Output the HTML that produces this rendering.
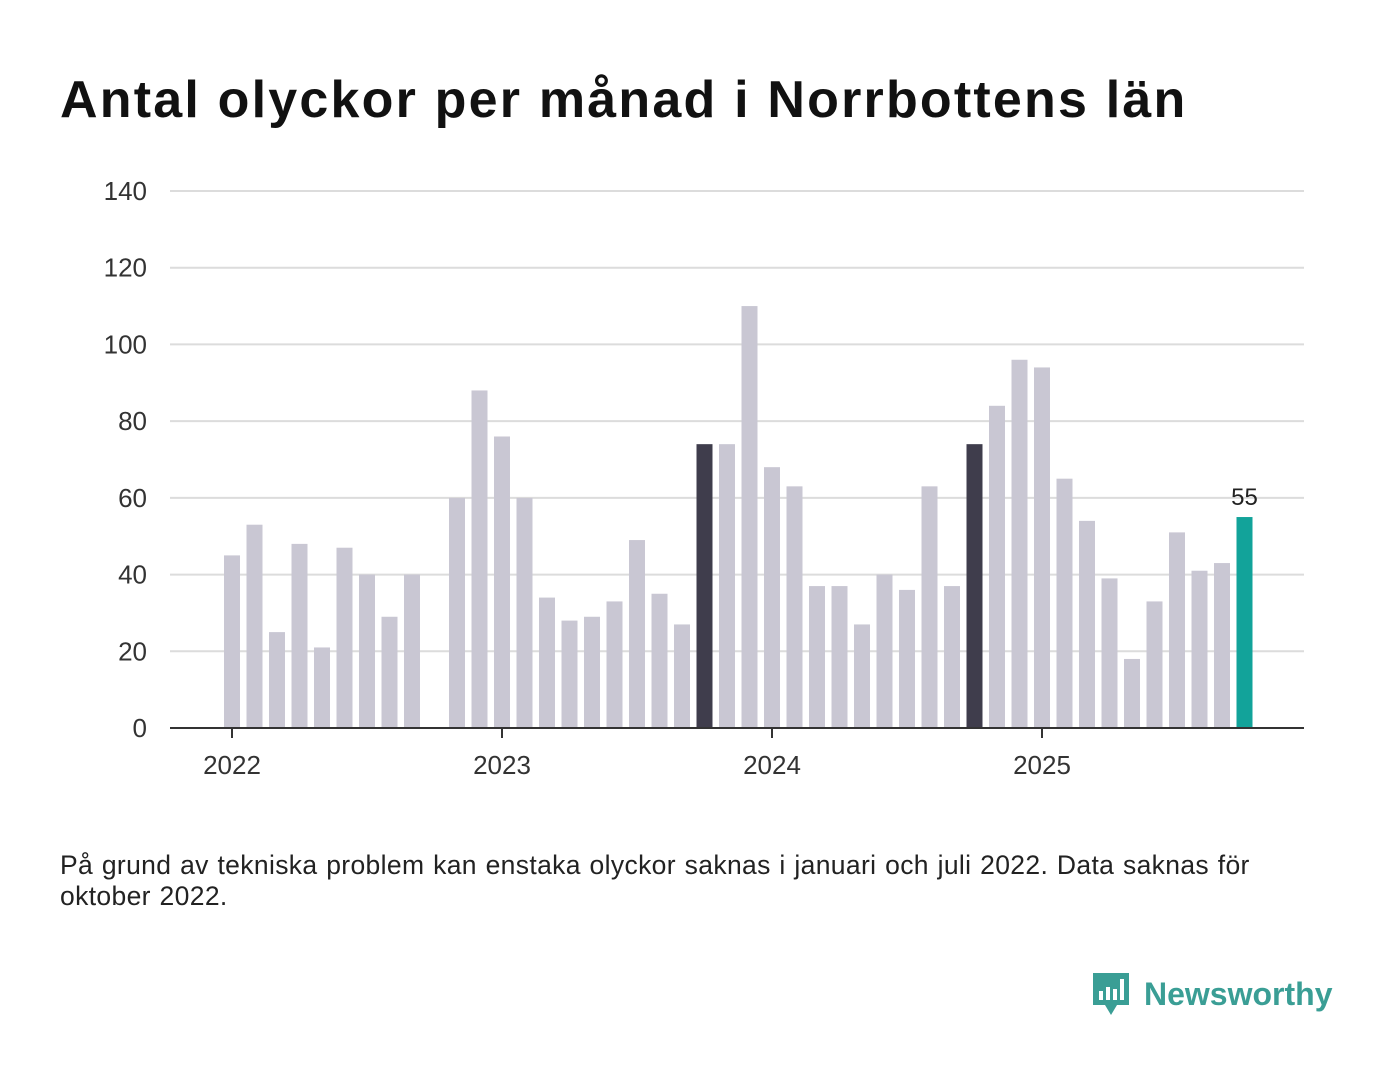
<!DOCTYPE html>
<html><head><meta charset="utf-8"><style>
body{margin:0;width:1400px;height:1080px;background:#fff;font-family:"Liberation Sans",sans-serif;overflow:hidden;position:relative}
h1{position:absolute;left:60px;top:70px;margin:0;font-size:52px;font-weight:bold;color:#111;letter-spacing:2.2px}
.note{position:absolute;left:60px;top:850px;width:1230px;font-size:26.5px;letter-spacing:0.35px;word-spacing:1px;line-height:31px;color:#222}
.logo{position:absolute;left:1090px;top:970px;display:flex;align-items:center;color:#3a9e95;font-size:32px;font-weight:bold}
</style></head><body>
<h1>Antal olyckor per månad i Norrbottens län</h1>
<svg id="chart" width="1400" height="820" style="position:absolute;left:0;top:0"></svg>
<div class="note">På grund av tekniska problem kan enstaka olyckor saknas i januari och juli 2022. Data saknas för oktober 2022.</div>
<div class="logo">
<svg width="42" height="48" viewBox="0 0 42 48" style="margin-right:12px"><path d="M3 3h36v32H27l-6 10-6-10H3z" fill="#3a9e95"/><rect x="9" y="21" width="4" height="9" fill="#fff"/><rect x="16" y="17" width="4" height="13" fill="#fff"/><rect x="23" y="19" width="4" height="11" fill="#fff"/><rect x="30" y="9" width="4" height="21" fill="#fff"/></svg>
<span>Newsworthy</span></div>
<script>
const months=["2022-01","2022-02","2022-03","2022-04","2022-05","2022-06","2022-07","2022-08","2022-09","2022-10","2022-11","2022-12","2023-01","2023-02","2023-03","2023-04","2023-05","2023-06","2023-07","2023-08","2023-09","2023-10","2023-11","2023-12","2024-01","2024-02","2024-03","2024-04","2024-05","2024-06","2024-07","2024-08","2024-09","2024-10","2024-11","2024-12","2025-01","2025-02","2025-03","2025-04","2025-05","2025-06","2025-07","2025-08","2025-09","2025-10"];
const values=[45,53,25,48,21,47,40,29,40,null,60,88,76,60,34,28,29,33,49,35,27,74,74,110,68,63,37,37,27,40,36,63,37,74,84,96,94,65,54,39,18,33,51,41,43,55];
const yTicks=[0,20,40,60,80,100,120,140];
const yearLabels=["2022","2023","2024","2025"];
const NS="http://www.w3.org/2000/svg",svg=document.getElementById("chart");
const y=v=>728-v*(537/140);
const x=i=>232+i*22.5;
function mk(t,a){const e=document.createElementNS(NS,t);for(const k in a)e.setAttribute(k,a[k]);svg.appendChild(e);return e;}
yTicks.forEach(t=>{
 if(t>0){const l=mk("line",{x1:170,x2:1304,y1:y(t),y2:y(t),stroke:"#dcdcdc","stroke-width":2});
 
 }
 const tx=mk("text",{x:147,y:y(t)+9,"text-anchor":"end","font-size":26,fill:"#333","font-family":"Liberation Sans, sans-serif"});tx.textContent=t;
 
 
});
const last=values.length-1;
values.forEach((v,i)=>{
 if(v==null)return;
 let c="#c9c7d3";
 if(i===last)c="#12a39a";else if(months[i].endsWith(months[last].slice(5)))c="#3f3d4c";
 const r=mk("rect",{x:x(i)-8,y:y(v),width:16,height:728-y(v),fill:c});
 
 
});
const lb=mk("text",{x:x(last),y:y(values[last])-12,"text-anchor":"middle","font-size":24,fill:"#222","font-family":"Liberation Sans, sans-serif"});lb.textContent=values[last];


const ax=mk("line",{x1:170,x2:1304,y1:728,y2:728,stroke:"#333","stroke-width":2});


yearLabels.forEach((yl,k)=>{
 const i=k*12;
 const tk=mk("line",{x1:x(i),x2:x(i),y1:728,y2:738,stroke:"#333","stroke-width":2});
 
 
 const t=mk("text",{x:x(i),y:774,"text-anchor":"middle","font-size":26,fill:"#333","font-family":"Liberation Sans, sans-serif"});t.textContent=yl;
 
 
});
</script>
</body></html>
